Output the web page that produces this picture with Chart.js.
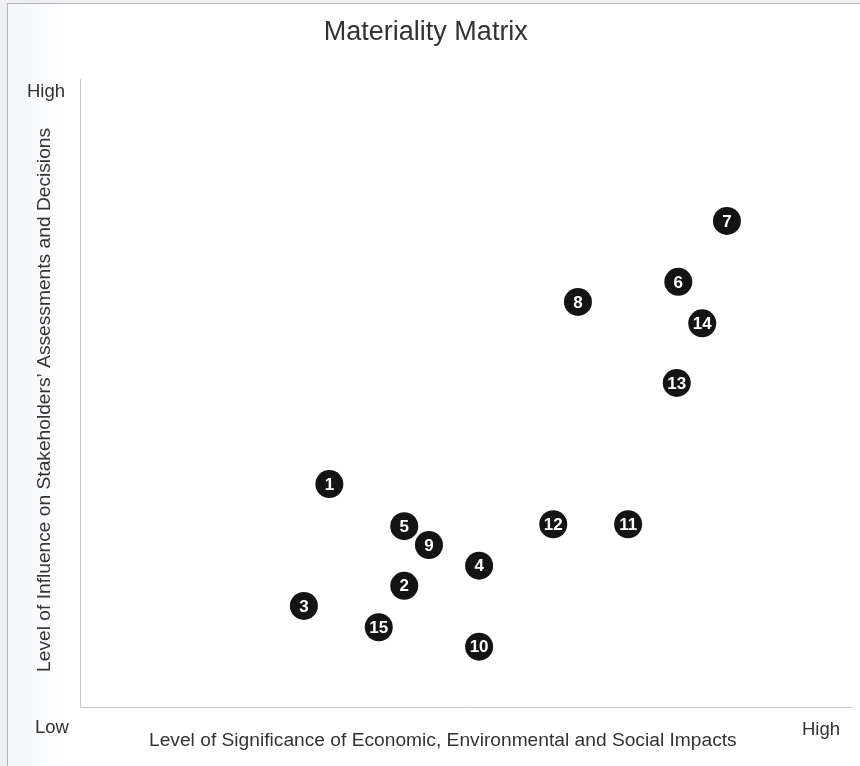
<!DOCTYPE html>
<html>
<head>
<meta charset="utf-8">
<script src="https://cdn.jsdelivr.net/npm/chart.js@4.4.1/dist/chart.umd.min.js"></script>
<style>
  html, body { margin: 0; padding: 0; width: 860px; height: 766px; overflow: hidden; background: #eef0f4; }
  #frame { position: absolute; left: 7px; top: 3px; width: 853px; height: 763px;
    border-left: 1px solid #b4b4b4; border-top: 1px solid #b4b4b4;
    background: linear-gradient(to right, #f4f6fa 0px, #ffffff 60px, #ffffff 100%); }
  #c { position: absolute; left: 0; top: 0; }
</style>
</head>
<body>
<div id="frame"></div>
<canvas id="c" width="860" height="766"></canvas>
<script>
// Data (0 = Low, 100 = High)
const issueIds = ["1","2","3","4","5","6","7","8","9","10","11","12","13","14","15"];
const significance = [32.3, 42.0, 29.0, 51.7, 42.0, 77.5, 83.8, 64.5, 45.2, 51.7, 71.0, 61.3, 77.3, 80.6, 38.7];
const influence    = [35.5, 19.3, 16.1, 22.5, 28.8, 67.7, 77.4, 64.5, 25.8,  9.6, 29.1, 29.1, 51.6, 61.1, 12.7];
const titleText = "Materiality Matrix";
const xTitle = "Level of Significance of Economic, Environmental and Social Impacts";
const yTitle = "Level of Influence on Stakeholders\u2019 Assessments and Decisions";
const lowLabel = "Low";
const highLabel = "High";

const FONT = "'Liberation Sans', Arial, Helvetica, sans-serif";
const TEXT = "#333333";

const points = significance.map((x, i) => ({ x: x, y: influence[i], id: issueIds[i] }));

const labelPlugin = {
  id: 'issueLabels',
  afterDatasetsDraw(chart) {
    const ctx = chart.ctx;
    const meta = chart.getDatasetMeta(0);
    ctx.save();
    ctx.fillStyle = '#ffffff';
    ctx.font = "bold 17px " + FONT;
    ctx.textAlign = 'center';
    ctx.textBaseline = 'middle';
    meta.data.forEach((el, i) => {
      ctx.fillText(issueIds[i], el.x, el.y + 1);
    });
    ctx.restore();
  }
};

const axisTextPlugin = {
  id: 'axisText',
  afterDraw(chart) {
    const ctx = chart.ctx;
    const xs = chart.scales.x, ys = chart.scales.y;
    ctx.save();
    ctx.fillStyle = TEXT;
    ctx.textBaseline = 'middle';
    ctx.textAlign = 'center';
    // chart title
    ctx.font = "27px " + FONT;
    ctx.fillText(titleText, xs.getPixelForValue(44.8), ys.top - 46);
    ctx.font = "18.5px " + FONT;
    // Low / High markers
    ctx.fillText(highLabel, xs.left - 34, ys.top + 13);
    ctx.fillText(lowLabel, xs.left - 28, ys.bottom + 21);
    ctx.fillText(highLabel, xs.right - 31, ys.bottom + 23);
    // axis titles
    ctx.font = "19.2px " + FONT;
    ctx.fillText(xTitle, xs.getPixelForValue(47.0), ys.bottom + 34);
    ctx.translate(xs.left - 35, ys.getPixelForValue(48.9));
    ctx.rotate(-Math.PI / 2);
    ctx.fillText(yTitle, 0, 0);
    ctx.restore();
  }
};

new Chart(document.getElementById('c'), {
  type: 'scatter',
  data: {
    datasets: [{
      data: points,
      backgroundColor: '#141414',
      borderWidth: 0,
      pointRadius: 14,
      pointHoverRadius: 14,
      clip: false
    }]
  },
  options: {
    responsive: false,
    animation: false,
    events: [],
    layout: { autoPadding: false, padding: { left: 80, right: 8, top: 79, bottom: 59 } },
    plugins: {
      legend: { display: false },
      tooltip: { enabled: false },
      title: { display: false }
    },
    scales: {
      x: {
        type: 'linear', min: 0, max: 100,
        grid: { display: false, drawTicks: false },
        ticks: { display: false },
        border: { display: true, color: '#c9c9c9', width: 1 }
      },
      y: {
        type: 'linear', min: 0, max: 100,
        grid: { display: false, drawTicks: false },
        ticks: { display: false },
        border: { display: true, color: '#c9c9c9', width: 1 }
      }
    }
  },
  plugins: [labelPlugin, axisTextPlugin]
});
</script>
</body>
</html>
